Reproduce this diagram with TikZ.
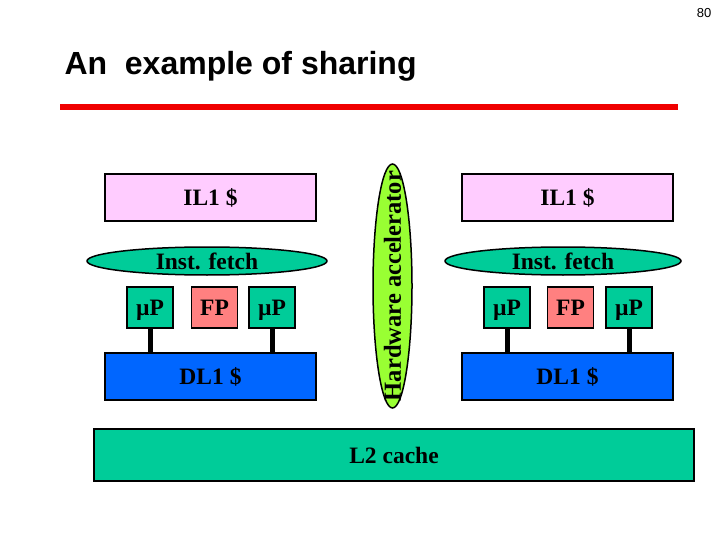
\documentclass[tikz,border=0pt]{standalone}
\usepackage{xcolor}
\usepackage{fontspec}
\setmainfont{Liberation Serif}
\newfontfamily\headfont{Liberation Sans}
\usepackage{tikz}
\usetikzlibrary{positioning,shapes.geometric}
\definecolor{ilpink}{HTML}{FFCCFF}
\definecolor{tealgreen}{HTML}{00CC99}
\definecolor{fpsalmon}{HTML}{FF8080}
\definecolor{dlblue}{HTML}{0066FF}
\definecolor{accelgreen}{HTML}{99FF33}
\definecolor{rulered}{HTML}{F00000}

\begin{document}
\begin{tikzpicture}[
  x=1pt, y=-1pt,
  font=\fontsize{23.5}{28}\selectfont\bfseries,
  unit/.style={draw, line width=1.5pt, inner sep=0pt, minimum width=211pt, minimum height=47pt, text height=16pt, text depth=0pt},
  core/.style={draw, line width=1.5pt, inner sep=0pt, minimum width=46pt, minimum height=41pt, fill=tealgreen, text height=16pt, text depth=0pt},
  fetch/.style={draw, ellipse, line width=1.5pt, inner sep=0pt, minimum height=28pt, fill=tealgreen, text height=16pt, text depth=0pt},
  bus/.style={line width=5pt}
]
\useasboundingbox (0,0) rectangle (720,540);
\node[font=\headfont\fontsize{13}{15}\selectfont] (pagenum) at (704,13) {80};
\node[anchor=base west, font=\headfont\bfseries\fontsize{32}{38}\selectfont] (title) at (61,75) {An\ \ example of sharing};
\fill[rulered] (60,104) rectangle (678,110);

\node[unit, fill=ilpink] (il1L) at (210.5,197.5) {IL1 \$};
\node[fetch, minimum width=240pt] (fetchL) at (207,261) {Inst. fetch};
\node[core] (upL1) at (150,307.5) {\textmu P};
\node[core, fill=fpsalmon, right=17pt of upL1] (fpL) {FP};
\node[core, right=10pt of fpL] (upL2) {\textmu P};
\node[unit, fill=dlblue] (dl1L) at (210.5,376.5) {DL1 \$};

\node[unit, fill=ilpink] (il1R) at (567.5,197.5) {IL1 \$};
\node[fetch, minimum width=236pt] (fetchR) at (563,261) {Inst. fetch};
\node[core] (upR1) at (507,307.5) {\textmu P};
\node[core, fill=fpsalmon, right=16pt of upR1] (fpR) {FP};
\node[core, right=11pt of fpR] (upR2) {\textmu P};
\node[unit, fill=dlblue] (dl1R) at (567.5,376.5) {DL1 \$};

\node[draw, ellipse, line width=1.5pt, inner sep=0pt, fill=accelgreen, rotate=90, minimum width=244pt, minimum height=39pt, font=\fontsize{24.5}{30}\selectfont\bfseries] (accel) at (392.5,286) {\makebox[0pt]{Hardware accelerator}};

\node[unit, fill=tealgreen, minimum width=600pt, minimum height=52pt] (l2) at (394,455) {L2 cache};

\draw[bus] (upL1.south) -- (upL1.south |- dl1L.north);
\draw[bus] (upL2.south) -- (upL2.south |- dl1L.north);
\draw[bus] (upR1.south) -- (upR1.south |- dl1R.north);
\draw[bus] (upR2.south) -- (upR2.south |- dl1R.north);
\end{tikzpicture}
\end{document}
